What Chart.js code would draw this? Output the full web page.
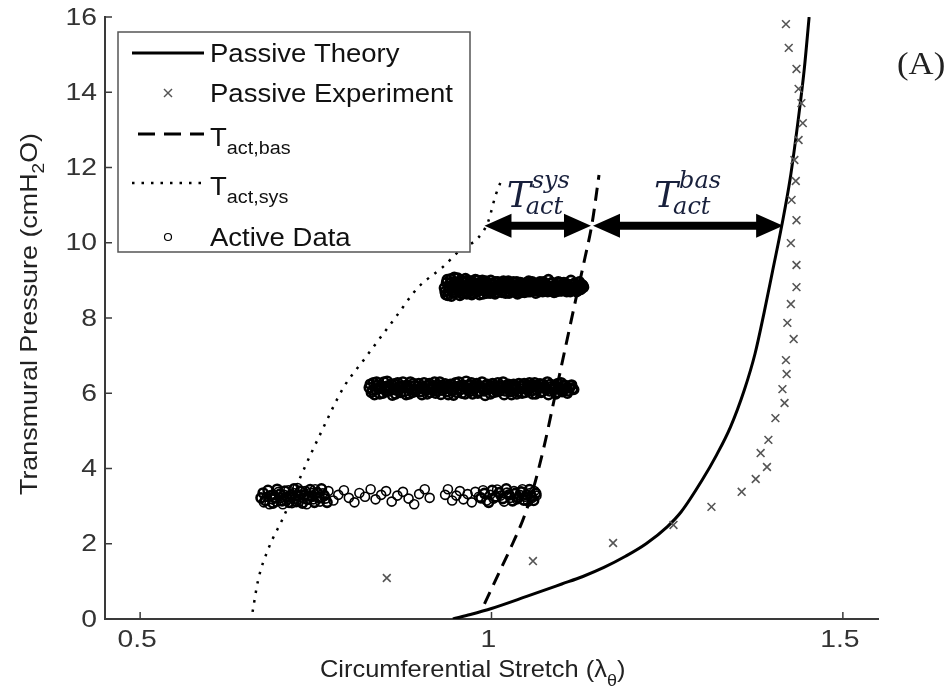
<!DOCTYPE html>
<html>
<head>
<meta charset="utf-8">
<title>Transmural pressure vs circumferential stretch</title>
<script src="https://cdn.jsdelivr.net/npm/chart.js@4.4.1/dist/chart.umd.min.js"></script>
<style>
  html, body { margin: 0; padding: 0; background: #fff; }
  #newCanva { width: 949px; height: 700px; }
</style>
</head>
<body>
<div id="newCanva"><canvas id="myChart" width="949" height="700"></canvas></div>
<script>
// axis ranges and ticks
var xRange = [0.45, 1.55];
var yRange = [0, 16];
var xTicks = [0.5, 1, 1.5];
var xTickText = ['0.5', '1', '1.5'];
var yTicks = [0, 2, 4, 6, 8, 10, 12, 14, 16];

// passive model curve (stretch, pressure)
var passiveTheory = [[0.945, 0], [0.97, 0.12], [1.0, 0.28], [1.05, 0.6], [1.1, 0.93], [1.13, 1.13],
    [1.16, 1.37], [1.19, 1.66], [1.22, 2.0], [1.25, 2.45], [1.27, 2.85], [1.3, 3.7], [1.32, 4.35],
    [1.34, 5.1], [1.36, 6.1], [1.375, 7.05], [1.388, 8.15], [1.4, 9.25], [1.413, 10.45], [1.425, 11.7],
    [1.436, 13.2], [1.445, 14.6], [1.452, 16]];

// passive inflation measurements
var passiveExp = [[0.851, 1.09], [1.059, 1.54], [1.173, 2.02], [1.259, 2.5], [1.313, 2.98], [1.356, 3.38],
    [1.376, 3.72], [1.392, 4.04], [1.383, 4.41], [1.394, 4.76], [1.404, 5.34], [1.417, 5.74], [1.414, 6.11],
    [1.42, 6.51], [1.419, 6.88], [1.43, 7.44], [1.421, 7.87], [1.426, 8.37], [1.434, 8.82], [1.434, 9.41],
    [1.426, 9.99], [1.434, 10.6], [1.427, 11.14], [1.433, 11.64], [1.431, 12.2], [1.437, 12.73],
    [1.443, 13.18], [1.441, 13.71], [1.437, 14.09], [1.434, 14.62], [1.423, 15.18], [1.419, 15.81]];

// basal tone curve
var tactBas = [[0.99, 0.4], [1.01, 1.2], [1.03, 2.0], [1.046, 2.7], [1.06, 3.5], [1.075, 4.6], [1.09, 5.9],
    [1.105, 7.2], [1.12, 8.5], [1.133, 9.6], [1.143, 10.5], [1.153, 11.8]];

// systolic curve
var tactSys = [[0.66, 0.19], [0.668, 1.04], [0.683, 1.89], [0.704, 2.71], [0.728, 3.77], [0.757, 4.94],
    [0.79, 6.17], [0.818, 6.88], [0.864, 8.03], [0.895, 8.8], [0.931, 9.36], [0.956, 9.81], [0.981, 10.13],
    [0.995, 10.55], [1.006, 11.27], [1.016, 11.75]];

// active data, two passes per pressure level
var activeLow = [[0.676, 3.1], [0.68, 3.25], [0.684, 3.05], [0.688, 3.18], [0.69, 3.3], [0.694, 3.12],
    [0.697, 3.38], [0.7, 3.22], [0.703, 3.05], [0.705, 3.3], [0.708, 3.15], [0.711, 3.42], [0.713, 3.26],
    [0.716, 3.08], [0.718, 3.35], [0.721, 3.2], [0.724, 3.48], [0.726, 3.12], [0.729, 3.3], [0.732, 3.22],
    [0.735, 3.4], [0.737, 3.05], [0.74, 3.28], [0.743, 3.36], [0.746, 3.18], [0.749, 3.45], [0.752, 3.25],
    [0.756, 3.12], [0.76, 3.34], [0.764, 3.2], [0.768, 3.4], [0.775, 3.15], [0.782, 3.3], [0.79, 3.42],
    [0.797, 3.22], [0.805, 3.1], [0.812, 3.35], [0.82, 3.25], [0.828, 3.45], [0.835, 3.18], [0.843, 3.3],
    [0.85, 3.4], [0.858, 3.12], [0.866, 3.28], [0.874, 3.38], [0.882, 3.2], [0.89, 3.05], [0.897, 3.32],
    [0.905, 3.45], [0.912, 3.22], [0.934, 3.3], [0.938, 3.45], [0.944, 3.15], [0.95, 3.28], [0.955, 3.4],
    [0.96, 3.18], [0.966, 3.32], [0.972, 3.1], [0.977, 3.38], [0.982, 3.25], [0.988, 3.42], [0.993, 3.15],
    [0.998, 3.3], [1.003, 3.2], [1.008, 3.44], [1.013, 3.28], [1.018, 3.12], [1.022, 3.36], [1.027, 3.22],
    [1.032, 3.4], [1.036, 3.18], [1.04, 3.3], [1.044, 3.45], [1.048, 3.25], [1.052, 3.12], [1.055, 3.35],
    [1.058, 3.22], [1.061, 3.4], [1.064, 3.28]];

var activeLow2 = [[0.672, 3.22], [0.675, 3.35], [0.678, 3.15], [0.682, 3.42], [0.686, 3.28], [0.689, 3.08],
    [0.692, 3.22], [0.695, 3.45], [0.699, 3.32], [0.702, 3.14], [0.706, 3.4], [0.709, 3.24], [0.712, 3.1],
    [0.715, 3.3], [0.719, 3.46], [0.722, 3.12], [0.725, 3.28], [0.728, 3.4], [0.731, 3.08], [0.734, 3.3],
    [0.738, 3.18], [0.742, 3.44], [0.745, 3.26], [0.748, 3.1], [0.752, 3.36], [0.755, 3.22], [0.758, 3.46],
    [0.762, 3.28], [0.766, 3.1], [0.985, 3.22], [0.99, 3.34], [0.996, 3.1], [1.001, 3.42], [1.006, 3.25],
    [1.011, 3.36], [1.016, 3.2], [1.021, 3.46], [1.025, 3.3], [1.03, 3.14], [1.034, 3.34], [1.038, 3.22],
    [1.042, 3.38], [1.046, 3.16], [1.05, 3.3], [1.054, 3.44], [1.057, 3.26], [1.06, 3.15], [1.063, 3.34]];

var activeMid = [[0.826, 6.15], [0.829, 6.02], [0.832, 6.28], [0.835, 6.1], [0.838, 6.22], [0.841, 5.98],
    [0.844, 6.18], [0.847, 6.3], [0.85, 6.05], [0.853, 6.2], [0.856, 6.12], [0.859, 5.95], [0.862, 6.25],
    [0.865, 6.08], [0.868, 6.18], [0.871, 6.02], [0.874, 6.3], [0.877, 6.14], [0.88, 6.22], [0.883, 5.98],
    [0.886, 6.1], [0.889, 6.26], [0.892, 6.05], [0.895, 6.18], [0.898, 6.12], [0.901, 5.96], [0.904, 6.28],
    [0.907, 6.08], [0.91, 6.2], [0.913, 6.02], [0.916, 6.15], [0.919, 6.3], [0.922, 6.06], [0.925, 6.22],
    [0.928, 5.97], [0.931, 6.14], [0.934, 6.25], [0.937, 6.04], [0.94, 6.18], [0.943, 6.1], [0.946, 5.95],
    [0.949, 6.28], [0.952, 6.12], [0.955, 6.2], [0.958, 6.0], [0.961, 6.16], [0.964, 6.32], [0.967, 6.08],
    [0.97, 6.22], [0.973, 5.98], [0.976, 6.14], [0.979, 6.26], [0.982, 6.05], [0.985, 6.18], [0.988, 6.1],
    [0.991, 5.94], [0.994, 6.24], [0.997, 6.12], [1.0, 6.2], [1.003, 6.02], [1.006, 6.16], [1.009, 6.28],
    [1.012, 6.06], [1.015, 6.2], [1.018, 5.96], [1.021, 6.14], [1.024, 6.24], [1.027, 6.04], [1.03, 6.18],
    [1.033, 6.1], [1.036, 5.98], [1.039, 6.26], [1.042, 6.12], [1.045, 6.2], [1.048, 6.02], [1.051, 6.15],
    [1.054, 6.28], [1.057, 6.06], [1.06, 6.22], [1.063, 5.98], [1.066, 6.14], [1.069, 6.25], [1.072, 6.04],
    [1.075, 6.18], [1.078, 6.1], [1.081, 5.96], [1.084, 6.24], [1.087, 6.12], [1.09, 6.2], [1.093, 6.02],
    [1.096, 6.16], [1.099, 6.28], [1.102, 6.08], [1.105, 6.2], [1.108, 6.0], [1.111, 6.14], [1.114, 6.22],
    [1.117, 6.1]];

var activeMid2 = [[0.8275, 6.24], [0.8305, 6.08], [0.8335, 5.96], [0.8365, 6.3], [0.8395, 6.12],
    [0.8425, 6.2], [0.8455, 6.0], [0.8485, 6.16], [0.8515, 6.32], [0.8545, 6.06], [0.8575, 6.24],
    [0.8605, 6.1], [0.8635, 5.98], [0.8665, 6.28], [0.8695, 6.14], [0.8725, 6.2], [0.8755, 6.04],
    [0.8785, 5.96], [0.8815, 6.16], [0.8845, 6.3], [0.8875, 6.02], [0.8905, 6.2], [0.8935, 6.1],
    [0.8965, 6.26], [0.8995, 6.04], [0.9025, 6.18], [0.9055, 6.12], [0.9085, 5.98], [0.9115, 6.26],
    [0.9145, 6.1], [0.9175, 6.2], [0.9205, 6.0], [0.9235, 6.14], [0.9265, 6.3], [0.9295, 6.08],
    [0.9325, 6.2], [0.9355, 6.12], [0.9385, 5.96], [0.9415, 6.24], [0.9445, 6.06], [0.9475, 6.18],
    [0.9505, 6.02], [0.9535, 6.3], [0.9565, 6.1], [0.9595, 6.22], [0.9625, 5.98], [0.9655, 6.14],
    [0.9685, 6.04], [0.9715, 6.28], [0.9745, 6.12], [0.9775, 6.2], [0.9805, 6.0], [0.9835, 6.16],
    [0.9865, 6.3], [0.9895, 6.06], [0.9925, 6.22], [0.9955, 6.1], [0.9985, 5.98], [1.0015, 6.26],
    [1.0045, 6.12], [1.0075, 6.04], [1.0105, 6.2], [1.0135, 6.14], [1.0165, 6.3], [1.0195, 6.06],
    [1.0225, 6.2], [1.0255, 6.1], [1.0285, 5.96], [1.0315, 6.24], [1.0345, 6.16], [1.0375, 6.04],
    [1.0405, 6.2], [1.0435, 6.0], [1.0465, 6.26], [1.0495, 6.1], [1.0525, 6.22], [1.0555, 6.14],
    [1.0585, 5.98], [1.0615, 6.28], [1.0645, 6.08], [1.0675, 6.18], [1.0705, 6.02], [1.0735, 6.24],
    [1.0765, 6.14], [1.0795, 6.3], [1.0825, 6.06], [1.0855, 6.18], [1.0885, 6.1], [1.0915, 5.98],
    [1.0945, 6.26], [1.0975, 6.12], [1.1005, 6.04], [1.1035, 6.22], [1.1065, 6.14], [1.1095, 6.06],
    [1.1125, 6.2], [1.1155, 6.12]];

var activeHigh = [[0.933, 8.8], [0.935, 8.62], [0.937, 9.02], [0.939, 8.72], [0.941, 8.92], [0.943, 8.58],
    [0.945, 8.85], [0.947, 9.08], [0.949, 8.68], [0.951, 8.95], [0.953, 8.76], [0.955, 8.6], [0.957, 9.0],
    [0.959, 8.82], [0.961, 8.7], [0.963, 9.05], [0.965, 8.64], [0.967, 8.9], [0.969, 8.78], [0.971, 8.98],
    [0.973, 8.66], [0.975, 8.86], [0.977, 9.02], [0.979, 8.72], [0.981, 8.92], [0.983, 8.62], [0.985, 8.84],
    [0.987, 9.0], [0.989, 8.74], [0.991, 8.94], [0.993, 8.66], [0.995, 8.88], [0.997, 8.78], [0.999, 9.0],
    [1.001, 8.7], [1.003, 8.9], [1.005, 8.64], [1.007, 8.84], [1.009, 8.96], [1.011, 8.74], [1.013, 8.88],
    [1.015, 8.68], [1.017, 8.98], [1.019, 8.8], [1.021, 8.7], [1.023, 8.92], [1.025, 8.66], [1.027, 8.86],
    [1.029, 8.76], [1.031, 8.96], [1.033, 8.7], [1.035, 8.88], [1.037, 8.64], [1.039, 8.82], [1.041, 8.94],
    [1.043, 8.72], [1.045, 8.86], [1.047, 8.68], [1.049, 8.9], [1.051, 8.78], [1.053, 8.98], [1.055, 8.7],
    [1.057, 8.84], [1.059, 8.76], [1.061, 8.92], [1.063, 8.66], [1.065, 8.86], [1.067, 8.74], [1.069, 8.96],
    [1.071, 8.8], [1.073, 8.7], [1.075, 8.9], [1.077, 8.76], [1.079, 8.86], [1.081, 9.02], [1.083, 8.72],
    [1.085, 8.92], [1.087, 8.8], [1.089, 8.68], [1.091, 8.88], [1.093, 8.78], [1.095, 8.96], [1.097, 8.72],
    [1.099, 8.86], [1.101, 8.76], [1.103, 8.94], [1.105, 8.82], [1.107, 8.7], [1.109, 8.88], [1.111, 8.78],
    [1.113, 9.0], [1.115, 8.74], [1.117, 8.9], [1.119, 8.8], [1.121, 8.7], [1.123, 8.86], [1.125, 8.96],
    [1.127, 8.76], [1.129, 8.88], [1.131, 8.82]];

var activeHigh2 = [[0.934, 8.7], [0.936, 8.94], [0.938, 8.6], [0.94, 8.84], [0.942, 9.04], [0.944, 8.74],
    [0.946, 8.66], [0.948, 8.96], [0.95, 8.82], [0.952, 9.06], [0.954, 8.7], [0.956, 8.88], [0.958, 8.64],
    [0.96, 8.98], [0.962, 8.8], [0.964, 8.68], [0.966, 9.0], [0.968, 8.74], [0.97, 8.86], [0.972, 8.62],
    [0.974, 8.94], [0.976, 8.78], [0.978, 8.68], [0.98, 9.0], [0.982, 8.82], [0.984, 8.74], [0.986, 8.92],
    [0.988, 8.64], [0.99, 8.86], [0.992, 8.98], [0.994, 8.72], [0.996, 8.84], [0.998, 8.66], [1.0, 8.92],
    [1.002, 8.8], [1.004, 8.74], [1.006, 8.96], [1.008, 8.68], [1.01, 8.86], [1.012, 8.78], [1.014, 8.94],
    [1.016, 8.72], [1.018, 8.88], [1.02, 8.66], [1.022, 8.84], [1.024, 8.98], [1.026, 8.76], [1.028, 8.9],
    [1.03, 8.7], [1.032, 8.84], [1.034, 8.78], [1.036, 8.96], [1.038, 8.72], [1.04, 8.86], [1.042, 8.68],
    [1.044, 8.92], [1.046, 8.8], [1.048, 8.74], [1.05, 8.94], [1.052, 8.7], [1.054, 8.86], [1.056, 8.78],
    [1.058, 8.96], [1.06, 8.72], [1.062, 8.84], [1.064, 8.76], [1.066, 8.92], [1.068, 8.7], [1.07, 8.86],
    [1.072, 8.8], [1.074, 8.96], [1.076, 8.74], [1.078, 8.88], [1.08, 8.7], [1.082, 8.84], [1.084, 8.78],
    [1.086, 8.94], [1.088, 8.74], [1.09, 8.86], [1.092, 8.7], [1.094, 8.84], [1.096, 8.8], [1.098, 8.94],
    [1.1, 8.72], [1.102, 8.86], [1.104, 8.78], [1.106, 8.92], [1.108, 8.76], [1.11, 8.84], [1.112, 8.7],
    [1.114, 8.88], [1.116, 8.8], [1.118, 8.92], [1.12, 8.76], [1.122, 8.84], [1.124, 8.74], [1.126, 8.88],
    [1.128, 8.8], [1.13, 8.86]];

// T_act arrows: pressure level and stretch stops (sys curve, bas curve, passive curve)
var arrowLevel = 10.45;
var arrowStops = [0.99, 1.143, 1.415];

var legendLabels = ['Passive Theory', 'Passive Experiment', 'T', 'T', 'Active Data'];
var legendSubs = ['', '', 'act,bas', 'act,sys', ''];

var ink = '#000';
var axisGray = '#3a3a3a';
var labelBlue = '#18203c';
var sansFont = "'Liberation Sans', Arial, sans-serif";
var serifFont = "'Liberation Serif', 'Times New Roman', serif";
var mathFont = "'DejaVu Serif', serif";

function pts(arr) {
    return arr.map(function (p) { return { x: p[0], y: p[1] }; });
}

function line(ctx, x1, y1, x2, y2) {
    ctx.beginPath();
    ctx.moveTo(x1, y1);
    ctx.lineTo(x2, y2);
    ctx.stroke();
}

// text drawn slightly wide, the way the exported figure shows it
function wideText(ctx, str, x, y, align, sx) {
    var w = ctx.measureText(str).width * sx;
    var x0 = align === 'right' ? x - w : (align === 'center' ? x - w / 2 : x);
    ctx.save();
    ctx.textAlign = 'left';
    ctx.translate(x0, y);
    ctx.scale(sx, 1);
    ctx.fillText(str, 0, 0);
    ctx.restore();
    return w;
}

function arrow(ctx, xa, xb, yp) {
    var hl = 27, hh = 12, sh = 4;
    ctx.beginPath();
    ctx.moveTo(xa, yp);
    ctx.lineTo(xa + hl, yp - hh);
    ctx.lineTo(xa + hl, yp - sh);
    ctx.lineTo(xb - hl, yp - sh);
    ctx.lineTo(xb - hl, yp - hh);
    ctx.lineTo(xb, yp);
    ctx.lineTo(xb - hl, yp + hh);
    ctx.lineTo(xb - hl, yp + sh);
    ctx.lineTo(xa + hl, yp + sh);
    ctx.lineTo(xa + hl, yp + hh);
    ctx.closePath();
    ctx.fill();
}

function tLabel(ctx, cx, ay, sup) {
    ctx.fillStyle = labelBlue;
    ctx.textAlign = 'left';
    ctx.textBaseline = 'alphabetic';
    ctx.font = 'italic 36px ' + mathFont;
    var tw = ctx.measureText('T').width;
    ctx.font = 'italic 24px ' + mathFont;
    var supw = ctx.measureText(sup).width, subw = ctx.measureText('act').width;
    var total = tw + Math.max(supw + 1, subw - 5);
    var x0 = cx - total / 2;
    ctx.font = 'italic 36px ' + mathFont;
    ctx.fillText('T', x0, ay - 19);
    ctx.font = 'italic 24px ' + mathFont;
    ctx.fillText(sup, x0 + tw + 1, ay - 38);
    ctx.fillText('act', x0 + tw - 5, ay - 12);
}

var overlay = {
    id: 'overlay',
    afterDraw: function (chart) {
        var ctx = chart.ctx, xs = chart.scales.x, ys = chart.scales.y;
        ctx.save();

        // inward tick marks
        ctx.strokeStyle = axisGray;
        ctx.lineWidth = 1.5;
        xTicks.forEach(function (v) {
            var px = xs.getPixelForValue(v);
            line(ctx, px, ys.bottom, px, ys.bottom - 7);
        });
        yTicks.forEach(function (v) {
            var py = ys.getPixelForValue(v);
            line(ctx, xs.left, py, xs.left + 7, py);
        });

        // tick labels
        ctx.fillStyle = '#333';
        ctx.font = '24px ' + sansFont;
        ctx.textBaseline = 'middle';
        yTicks.forEach(function (v) {
            wideText(ctx, String(v), xs.left - 8, ys.getPixelForValue(v) + 1, 'right', 1.18);
        });
        ctx.textBaseline = 'top';
        xTicks.forEach(function (v, i) {
            wideText(ctx, xTickText[i], xs.getPixelForValue(v) - 3, ys.bottom + 9, 'center', 1.18);
        });

        // T_act arrows
        var ay = ys.getPixelForValue(arrowLevel);
        var s0 = xs.getPixelForValue(arrowStops[0]);
        var s1 = xs.getPixelForValue(arrowStops[1]);
        var s2 = xs.getPixelForValue(arrowStops[2]);
        ctx.fillStyle = ink;
        arrow(ctx, s0, s1 - 1, ay);
        arrow(ctx, s1 + 1, s2, ay);
        tLabel(ctx, (s0 + s1) / 2, ay, 'sys');
        tLabel(ctx, (s1 + s2) / 2, ay, 'bas');

        // panel tag
        ctx.fillStyle = '#222';
        ctx.textBaseline = 'alphabetic';
        ctx.font = '31px ' + serifFont;
        wideText(ctx, '(A)', 897, 74, 'left', 1.12);

        // axis titles
        ctx.fillStyle = '#222';
        ctx.font = '24px ' + sansFont;
        var sx = 1.06;
        var xt = 'Circumferential Stretch (\u03bb';
        var xStart = 320;
        var xw = wideText(ctx, xt, xStart, 677, 'left', sx);
        ctx.font = '17px ' + sansFont;
        var thw = wideText(ctx, '\u03b8', xStart + xw, 686, 'left', sx);
        ctx.font = '24px ' + sansFont;
        wideText(ctx, ')', xStart + xw + thw, 677, 'left', sx);

        ctx.save();
        ctx.translate(37, (ys.top + ys.bottom) / 2 - 4);
        ctx.rotate(-Math.PI / 2);
        var sy = 1.12;
        var yt = 'Transmural Pressure (cmH';
        var yw = ctx.measureText(yt).width * sy;
        ctx.font = '17px ' + sansFont;
        var tw2 = ctx.measureText('2').width * sy;
        ctx.font = '24px ' + sansFont;
        var ywAll = yw + tw2 + ctx.measureText('O)').width * sy;
        var y0 = -ywAll / 2;
        wideText(ctx, yt, y0, 0, 'left', sy);
        ctx.font = '17px ' + sansFont;
        wideText(ctx, '2', y0 + yw, 7, 'left', sy);
        ctx.font = '24px ' + sansFont;
        wideText(ctx, 'O)', y0 + yw + tw2, 0, 'left', sy);
        ctx.restore();

        // legend box
        var bx = 118, by = 32, bw = 352, bh = 220;
        ctx.fillStyle = '#fff';
        ctx.fillRect(bx, by, bw, bh);
        ctx.strokeStyle = '#555';
        ctx.lineWidth = 1.5;
        ctx.strokeRect(bx, by, bw, bh);

        var rows = [53, 93, 134, 183, 237];
        var l0 = 132, l1 = 204, tx = 210;
        ctx.strokeStyle = ink;
        ctx.lineWidth = 3;
        line(ctx, l0, rows[0], l1, rows[0]);
        ctx.setLineDash([17, 9]);
        line(ctx, l0 + 6, rows[2], l1, rows[2]);
        ctx.setLineDash([2.5, 7]);
        ctx.lineWidth = 2.5;
        line(ctx, l0, rows[3], l1, rows[3]);
        ctx.setLineDash([]);

        var mx = (l0 + l1) / 2;
        ctx.strokeStyle = '#555';
        ctx.lineWidth = 1.5;
        line(ctx, mx - 4, rows[1] - 4, mx + 4, rows[1] + 4);
        line(ctx, mx - 4, rows[1] + 4, mx + 4, rows[1] - 4);
        ctx.strokeStyle = ink;
        ctx.lineWidth = 1.2;
        ctx.beginPath();
        ctx.arc(mx, rows[4], 3.5, 0, Math.PI * 2);
        ctx.stroke();

        ctx.fillStyle = '#111';
        legendLabels.forEach(function (t, i) {
            ctx.font = '25px ' + sansFont;
            if (legendSubs[i]) {
                ctx.textBaseline = 'alphabetic';
                var bl = rows[i] + 12;
                var w = wideText(ctx, t, tx, bl, 'left', 1.1);
                ctx.font = '18px ' + sansFont;
                wideText(ctx, legendSubs[i], tx + w, bl + 8, 'left', 1.1);
            } else {
                ctx.textBaseline = 'middle';
                wideText(ctx, t, tx, rows[i] + 2, 'left', 1.1);
            }
        });
        ctx.restore();
    }
};

Chart.defaults.font.family = sansFont;

function activeSet(label, arr, bw) {
    return {
        label: label,
        data: pts(arr),
        pointStyle: 'circle',
        pointRadius: 4.5,
        borderWidth: bw,
        borderColor: ink,
        backgroundColor: 'rgba(0,0,0,0)'
    };
}

var ctx = document.getElementById('myChart');
new Chart(ctx, {
    type: 'scatter',
    data: {
        datasets: [
            activeSet('Active Data', activeLow, 1.6),
            activeSet('Active Data', activeLow2, 2.6),
            activeSet('Active Data', activeMid, 2.6),
            activeSet('Active Data', activeMid2, 2.6),
            activeSet('Active Data', activeHigh, 2.6),
            activeSet('Active Data', activeHigh2, 2.6),
            {
                label: 'Passive Experiment',
                data: pts(passiveExp),
                pointStyle: 'crossRot',
                pointRadius: 5.5,
                borderWidth: 1.6,
                borderColor: '#555'
            }, {
                label: 'T_act,bas',
                data: pts(tactBas),
                showLine: true,
                cubicInterpolationMode: 'monotone',
                pointRadius: 0,
                borderWidth: 3,
                borderDash: [13, 8],
                borderColor: ink
            }, {
                label: 'T_act,sys',
                data: pts(tactSys),
                showLine: true,
                cubicInterpolationMode: 'monotone',
                pointRadius: 0,
                borderWidth: 2.5,
                borderDash: [2.5, 7],
                borderColor: ink
            }, {
                label: 'Passive Theory',
                data: pts(passiveTheory),
                showLine: true,
                cubicInterpolationMode: 'monotone',
                pointRadius: 0,
                borderWidth: 3,
                borderColor: ink
            }
        ]
    },
    options: {
        responsive: false,
        animation: false,
        devicePixelRatio: 1,
        layout: { padding: { top: 17, right: 71, left: 0, bottom: 0 } },
        plugins: {
            legend: { display: false },
            tooltip: { enabled: false }
        },
        scales: {
            x: {
                type: 'linear',
                min: xRange[0],
                max: xRange[1],
                afterBuildTicks: function (scale) {
                    scale.ticks = xTicks.map(function (v) { return { value: v }; });
                },
                afterFit: function (scale) { scale.height = 81; },
                grid: { display: false },
                border: { display: true, color: axisGray, width: 2 },
                ticks: { display: false }
            },
            y: {
                type: 'linear',
                min: yRange[0],
                max: yRange[1],
                afterBuildTicks: function (scale) {
                    scale.ticks = yTicks.map(function (v) { return { value: v }; });
                },
                afterFit: function (scale) { scale.width = 105; },
                grid: { display: false },
                border: { display: true, color: axisGray, width: 2 },
                ticks: { display: false }
            }
        }
    },
    plugins: [overlay]
});
</script>
</body>
</html>
